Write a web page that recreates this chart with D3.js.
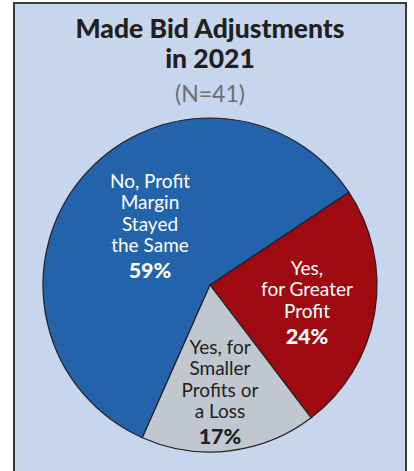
<!DOCTYPE html>
<html>
<head>
<meta charset="utf-8">
<script src="https://cdn.jsdelivr.net/npm/d3@7"></script>
<style>
  html, body { margin: 0; padding: 0; background: #ffffff; }
  svg { display: block; }
</style>
</head>
<body>
<svg id="chart" width="414" height="471"></svg>
<script>
// Survey responses: share of firms that adjusted bids in 2021
const categories = ["No, Profit Margin Stayed the Same", "Yes, for Greater Profit", "Yes, for Smaller Profits or a Loss"];
const labelLines = [
  ["No, Profit", "Margin", "Stayed", "the Same"],
  ["Yes,", "for Greater", "Profit"],
  ["Yes, for", "Smaller", "Profits or", "a Loss"]
];
const values = [59, 24, 17];
const colors = ["#2263ac", "#9f0a11", "#c0c7cf"];
const textColors = ["#ffffff", "#ffffff", "#231f20"];
const titleLines = ["Made Bid Adjustments", "in 2021"];
const subtitle = "(N=41)";

const svg = d3.select("#chart");
const FONT = "Lato, 'Noto Sans', sans-serif";

// Panel
svg.append("rect")
  .attr("x", 14).attr("y", 3)
  .attr("width", 392).attr("height", 480)
  .attr("fill", "#c7d5ed")
  .attr("stroke", "#3b3b3b")
  .attr("stroke-width", 2);

// Title
svg.append("text")
  .attr("x", 210).attr("y", 38)
  .attr("text-anchor", "middle")
  .attr("font-family", FONT).attr("font-weight", 900)
  .attr("font-size", 26.5).attr("fill", "#231f20")
  .selectAll("tspan").data(titleLines).join("tspan")
  .attr("x", 210).attr("dy", (d, i) => i === 0 ? 0 : 30)
  .text(d => d);

svg.append("text")
  .attr("x", 210).attr("y", 102)
  .attr("text-anchor", "middle")
  .attr("font-family", FONT).attr("font-size", 23)
  .attr("fill", "#6d6e70")
  .text(subtitle);

// Pie
const cx = 210, cy = 285, r = 167;
const startAngle = 56.3 * Math.PI / 180;
const pie = d3.pie().sort(null).value(d => d)
  .startAngle(startAngle - 2 * Math.PI * values[0] / 100)
  .endAngle(startAngle - 2 * Math.PI * values[0] / 100 + 2 * Math.PI);
const arcs = pie(values);
const arc = d3.arc().innerRadius(0).outerRadius(r);

const g = svg.append("g").attr("transform", `translate(${cx},${cy})`);
g.selectAll("path").data(arcs).join("path")
  .attr("d", arc)
  .attr("fill", (d, i) => colors[i])
  .attr("stroke", "#231f20")
  .attr("stroke-width", 1.2)
  .attr("stroke-linejoin", "round");

// Slice labels: position (relative to pie centre) of the first baseline
const labelPos = [
  { x: -60, y: -97 },
  { x: 97, y: -10 },
  { x: 10, y: 69 }
];
const lineH = 21.3;
arcs.forEach((a, i) => {
  const p = labelPos[i];
  const t = g.append("text")
    .attr("text-anchor", "middle")
    .attr("font-family", FONT)
    .attr("font-size", 19)
    .attr("fill", textColors[i]);
  labelLines[i].forEach((line, j) => {
    t.append("tspan").attr("x", p.x).attr("y", p.y + j * lineH).text(line);
  });
  t.append("tspan")
    .attr("x", p.x)
    .attr("y", p.y + (labelLines[i].length - 1) * lineH + 26)
    .attr("font-weight", 900)
    .attr("font-size", 21.5)
    .text(values[i] + "%");
});
</script>
</body>
</html>
